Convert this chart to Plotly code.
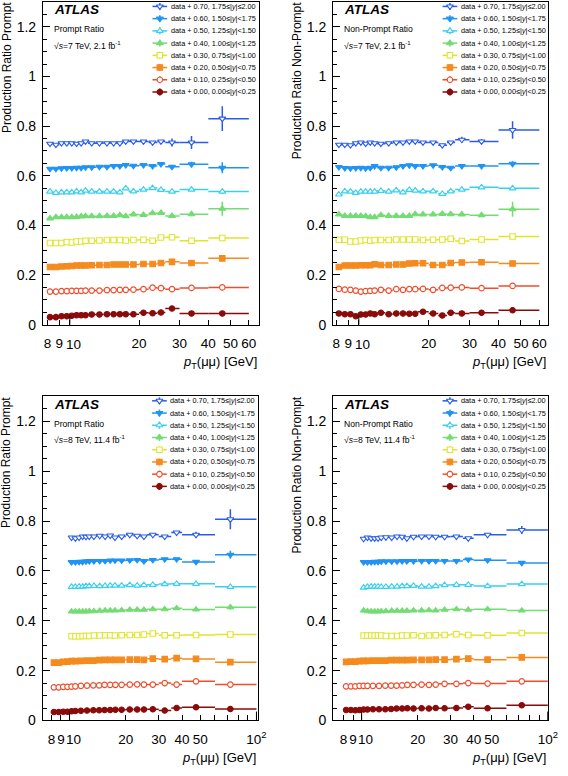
import math
import plotly.graph_objects as go

W, H = 568, 776
FONT = "Liberation Sans, Arial, Helvetica, sans-serif"

# ---------------- common series description ----------------
offsets = [0.70, 0.60, 0.50, 0.40, 0.30, 0.20, 0.10, 0.00]
rap_labels = ["1.75≤|<i>y</i>|≤2.00", "1.50≤|<i>y</i>|<1.75", "1.25≤|<i>y</i>|<1.50",
              "1.00≤|<i>y</i>|<1.25", "0.75≤|<i>y</i>|<1.00", "0.50≤|<i>y</i>|<0.75",
              "0.25≤|<i>y</i>|<0.50", "0.00≤|<i>y</i>|<0.25"]
colors = ["#2a5ce8", "#1f94f5", "#38d0ee", "#74dc74", "#dfe52a", "#f58a1e", "#f04c2c", "#8b0a0a"]
symbols = ["triangle-down", "triangle-down", "triangle-up", "triangle-up",
           "square", "square", "circle", "circle"]
is_open = [True, False, True, False, True, False, True, False]

# ---------------- pT binning ----------------
pt7_edges = [8, 8.5, 9, 9.5, 10, 10.5, 11, 11.5, 12, 13, 14, 15, 16, 17, 18, 20, 22, 24, 26, 30, 40, 60]
pt7_mean = [8.2, 8.7, 9.2, 9.7, 10.2, 10.7, 11.2, 11.7, 12.45, 13.45, 14.5, 15.5, 16.5, 17.5,
            18.9, 20.9, 22.9, 24.9, 27.8, 33.8, 46.0]

pt8lo_edges = [8, 8.5, 9, 9.5, 10, 10.5, 11, 12, 13, 14, 15, 16, 17, 18, 20, 22, 24, 26, 30, 35, 40, 60, 100]
pt8lo_mean = [8.25, 8.75, 9.25, 9.75, 10.25, 10.75, 11.5, 12.4, 13.4, 14.4, 15.4, 16.5, 17.6, 19.0,
              21.0, 23.0, 25.0, 27.9, 32.3, 37.4, 47.5, 72.5]
pt8hi_edges = [10, 10.5, 11, 11.5, 12, 12.5, 13, 14, 15, 16, 17, 18, 20, 22, 24, 26, 30, 35, 40, 60, 100]
pt8hi_mean = [10.25, 10.75, 11.25, 11.75, 12.25, 12.75, 13.5, 14.5, 15.5, 16.5, 17.5, 19.0, 21.0,
              23.0, 25.0, 27.9, 32.3, 37.4, 47.5, 72.5]

# ---------------- 7 TeV prompt ratio (top left) ----------------
tl_v070 = [0.029, 0.025, 0.031, 0.031, 0.031, 0.029, 0.031, 0.038, 0.031, 0.031, 0.031, 0.031, 0.031, 0.038, 0.038, 0.038, 0.034, 0.038, 0.034, 0.034, 0.130]
tl_v060 = [0.028, 0.028, 0.030, 0.031, 0.031, 0.032, 0.032, 0.034, 0.034, 0.036, 0.036, 0.039, 0.039, 0.043, 0.040, 0.043, 0.039, 0.047, 0.036, 0.046, 0.032]
tl_v050 = [0.036, 0.031, 0.033, 0.033, 0.033, 0.037, 0.033, 0.040, 0.036, 0.036, 0.036, 0.036, 0.033, 0.049, 0.037, 0.044, 0.050, 0.043, 0.036, 0.044, 0.036]
tl_v040 = [0.028, 0.033, 0.033, 0.033, 0.033, 0.034, 0.036, 0.037, 0.037, 0.037, 0.038, 0.038, 0.041, 0.037, 0.044, 0.042, 0.049, 0.050, 0.038, 0.045, 0.067]
tl_v030 = [0.029, 0.029, 0.029, 0.033, 0.031, 0.035, 0.035, 0.038, 0.038, 0.039, 0.041, 0.041, 0.041, 0.039, 0.041, 0.042, 0.038, 0.051, 0.052, 0.038, 0.049]
tl_v020 = [0.032, 0.032, 0.034, 0.035, 0.036, 0.038, 0.038, 0.038, 0.039, 0.040, 0.040, 0.042, 0.042, 0.042, 0.042, 0.044, 0.044, 0.048, 0.053, 0.048, 0.067]
tl_v010 = [0.033, 0.033, 0.035, 0.035, 0.036, 0.036, 0.036, 0.037, 0.037, 0.037, 0.039, 0.039, 0.040, 0.040, 0.041, 0.043, 0.049, 0.047, 0.043, 0.048, 0.050]
tl_v000 = [0.030, 0.030, 0.034, 0.034, 0.036, 0.038, 0.038, 0.038, 0.041, 0.041, 0.042, 0.042, 0.042, 0.042, 0.042, 0.048, 0.046, 0.049, 0.065, 0.045, 0.045]
tl_e070 = [0.003, 0.003, 0.003, 0.003, 0.003, 0.003, 0.003, 0.003, 0.003, 0.003, 0.003, 0.003, 0.004, 0.004, 0.004, 0.005, 0.005, 0.006, 0.016, 0.026, 0.050]
tl_e060 = [0.002, 0.002, 0.002, 0.002, 0.002, 0.002, 0.002, 0.002, 0.002, 0.002, 0.003, 0.003, 0.003, 0.003, 0.003, 0.004, 0.004, 0.005, 0.006, 0.010, 0.022]
tl_e050 = [0.002, 0.002, 0.002, 0.002, 0.002, 0.002, 0.002, 0.002, 0.002, 0.002, 0.002, 0.003, 0.003, 0.003, 0.003, 0.003, 0.004, 0.004, 0.005, 0.006, 0.010]
tl_e040 = [0.002, 0.002, 0.002, 0.002, 0.002, 0.002, 0.002, 0.002, 0.002, 0.002, 0.002, 0.003, 0.003, 0.003, 0.003, 0.003, 0.004, 0.004, 0.005, 0.008, 0.028]
tl_e030 = [0.002, 0.002, 0.002, 0.002, 0.002, 0.002, 0.002, 0.002, 0.002, 0.002, 0.002, 0.002, 0.003, 0.003, 0.003, 0.003, 0.003, 0.004, 0.004, 0.005, 0.008]
tl_e020 = [0.002, 0.002, 0.002, 0.002, 0.002, 0.002, 0.002, 0.002, 0.002, 0.002, 0.002, 0.002, 0.003, 0.003, 0.003, 0.003, 0.003, 0.004, 0.004, 0.005, 0.009]
tl_e010 = [0.002, 0.002, 0.002, 0.002, 0.002, 0.002, 0.002, 0.002, 0.002, 0.002, 0.002, 0.002, 0.002, 0.002, 0.002, 0.003, 0.003, 0.003, 0.003, 0.004, 0.005]
tl_e000 = [0.002, 0.002, 0.002, 0.002, 0.002, 0.002, 0.002, 0.002, 0.002, 0.002, 0.002, 0.002, 0.002, 0.002, 0.002, 0.003, 0.003, 0.003, 0.003, 0.004, 0.006]

# ---------------- 7 TeV non-prompt ratio (top right) ----------------
tr_v070 = [0.025, 0.025, 0.023, 0.031, 0.034, 0.029, 0.034, 0.031, 0.029, 0.031, 0.034, 0.034, 0.038, 0.038, 0.034, 0.034, 0.023, 0.034, 0.045, 0.038, 0.084]
tr_v060 = [0.035, 0.031, 0.030, 0.031, 0.032, 0.030, 0.032, 0.039, 0.032, 0.032, 0.034, 0.039, 0.042, 0.039, 0.039, 0.042, 0.035, 0.032, 0.039, 0.039, 0.048]
tr_v050 = [0.024, 0.037, 0.036, 0.031, 0.036, 0.036, 0.036, 0.036, 0.039, 0.036, 0.041, 0.033, 0.043, 0.040, 0.037, 0.037, 0.027, 0.037, 0.044, 0.053, 0.049]
tr_v040 = [0.044, 0.038, 0.038, 0.038, 0.038, 0.037, 0.033, 0.033, 0.041, 0.038, 0.038, 0.038, 0.038, 0.045, 0.044, 0.044, 0.046, 0.045, 0.044, 0.041, 0.065]
tr_v030 = [0.042, 0.042, 0.035, 0.035, 0.039, 0.041, 0.038, 0.041, 0.041, 0.041, 0.043, 0.043, 0.043, 0.043, 0.041, 0.042, 0.043, 0.046, 0.037, 0.043, 0.055]
tr_v020 = [0.032, 0.038, 0.038, 0.038, 0.039, 0.039, 0.039, 0.043, 0.040, 0.040, 0.042, 0.042, 0.046, 0.047, 0.047, 0.040, 0.040, 0.048, 0.050, 0.051, 0.046]
tr_v010 = [0.044, 0.041, 0.040, 0.037, 0.033, 0.035, 0.036, 0.037, 0.040, 0.037, 0.043, 0.040, 0.043, 0.043, 0.044, 0.040, 0.048, 0.049, 0.050, 0.047, 0.056]
tr_v000 = [0.045, 0.042, 0.042, 0.034, 0.041, 0.041, 0.045, 0.042, 0.048, 0.042, 0.045, 0.045, 0.044, 0.044, 0.052, 0.045, 0.037, 0.048, 0.045, 0.048, 0.058]
tr_e070 = [0.003, 0.003, 0.003, 0.003, 0.003, 0.003, 0.003, 0.003, 0.003, 0.003, 0.003, 0.003, 0.004, 0.004, 0.004, 0.005, 0.005, 0.006, 0.012, 0.010, 0.035]
tr_e060 = [0.002, 0.002, 0.002, 0.002, 0.002, 0.002, 0.002, 0.002, 0.002, 0.002, 0.003, 0.003, 0.003, 0.003, 0.003, 0.004, 0.004, 0.005, 0.005, 0.006, 0.010]
tr_e050 = [0.002, 0.002, 0.002, 0.002, 0.002, 0.002, 0.002, 0.002, 0.002, 0.002, 0.002, 0.003, 0.003, 0.003, 0.003, 0.003, 0.004, 0.004, 0.005, 0.005, 0.007]
tr_e040 = [0.002, 0.002, 0.002, 0.002, 0.002, 0.002, 0.002, 0.002, 0.002, 0.002, 0.002, 0.003, 0.003, 0.003, 0.003, 0.003, 0.004, 0.004, 0.004, 0.006, 0.030]
tr_e030 = [0.002, 0.002, 0.002, 0.002, 0.002, 0.002, 0.002, 0.002, 0.002, 0.002, 0.002, 0.002, 0.003, 0.003, 0.003, 0.003, 0.003, 0.004, 0.004, 0.005, 0.007]
tr_e020 = [0.002, 0.002, 0.002, 0.002, 0.002, 0.002, 0.002, 0.002, 0.002, 0.002, 0.002, 0.002, 0.003, 0.003, 0.003, 0.003, 0.003, 0.004, 0.004, 0.005, 0.006]
tr_e010 = [0.002, 0.002, 0.002, 0.002, 0.002, 0.002, 0.002, 0.002, 0.002, 0.002, 0.002, 0.002, 0.002, 0.002, 0.002, 0.003, 0.003, 0.003, 0.003, 0.004, 0.005]
tr_e000 = [0.002, 0.002, 0.002, 0.002, 0.002, 0.002, 0.002, 0.002, 0.002, 0.002, 0.002, 0.002, 0.002, 0.002, 0.002, 0.003, 0.003, 0.003, 0.003, 0.004, 0.005]

# ---------------- 8 TeV prompt ratio (bottom left) ----------------
bl_v070 = [0.034, 0.031, 0.034, 0.038, 0.037, 0.038, 0.038, 0.041, 0.038, 0.042, 0.034, 0.038, 0.045, 0.041, 0.038, 0.045, 0.038, 0.054, 0.045, 0.107]
bl_v060 = [0.035, 0.035, 0.036, 0.036, 0.038, 0.039, 0.039, 0.040, 0.040, 0.042, 0.042, 0.042, 0.043, 0.044, 0.039, 0.044, 0.047, 0.047, 0.036, 0.065]
bl_v050 = [0.036, 0.036, 0.037, 0.037, 0.039, 0.039, 0.040, 0.039, 0.040, 0.041, 0.041, 0.041, 0.043, 0.041, 0.043, 0.044, 0.047, 0.048, 0.048, 0.036]
bl_v040 = [0.037, 0.037, 0.037, 0.037, 0.037, 0.038, 0.038, 0.040, 0.041, 0.041, 0.041, 0.042, 0.044, 0.044, 0.044, 0.046, 0.046, 0.050, 0.045, 0.054]
bl_v030 = [0.038, 0.038, 0.038, 0.039, 0.039, 0.039, 0.041, 0.041, 0.042, 0.042, 0.041, 0.042, 0.043, 0.043, 0.045, 0.049, 0.042, 0.042, 0.043, 0.045]
bl_v020 = [0.032, 0.032, 0.035, 0.036, 0.038, 0.038, 0.039, 0.040, 0.040, 0.042, 0.043, 0.043, 0.043, 0.043, 0.044, 0.044, 0.043, 0.048, 0.046, 0.050, 0.047, 0.034]
bl_v010 = [0.033, 0.033, 0.035, 0.035, 0.036, 0.037, 0.039, 0.040, 0.041, 0.041, 0.043, 0.043, 0.043, 0.043, 0.044, 0.045, 0.044, 0.044, 0.050, 0.044, 0.057, 0.044]
bl_v000 = [0.034, 0.034, 0.035, 0.035, 0.037, 0.038, 0.039, 0.040, 0.041, 0.041, 0.042, 0.042, 0.043, 0.043, 0.044, 0.044, 0.044, 0.045, 0.040, 0.050, 0.053, 0.046]
bl_e070 = [0.003, 0.003, 0.003, 0.003, 0.003, 0.003, 0.003, 0.003, 0.003, 0.003, 0.003, 0.003, 0.004, 0.004, 0.004, 0.005, 0.006, 0.006, 0.012, 0.040]
bl_e060 = [0.002, 0.002, 0.002, 0.002, 0.002, 0.002, 0.002, 0.002, 0.002, 0.002, 0.002, 0.003, 0.003, 0.003, 0.003, 0.003, 0.004, 0.004, 0.005, 0.016]
bl_e050 = [0.002, 0.002, 0.002, 0.002, 0.002, 0.002, 0.002, 0.002, 0.002, 0.002, 0.002, 0.002, 0.003, 0.003, 0.003, 0.003, 0.003, 0.004, 0.004, 0.008]
bl_e040 = [0.002, 0.002, 0.002, 0.002, 0.002, 0.002, 0.002, 0.002, 0.002, 0.002, 0.002, 0.002, 0.003, 0.003, 0.003, 0.003, 0.003, 0.004, 0.004, 0.010]
bl_e030 = [0.002, 0.002, 0.002, 0.002, 0.002, 0.002, 0.002, 0.002, 0.002, 0.002, 0.002, 0.002, 0.002, 0.003, 0.003, 0.003, 0.003, 0.003, 0.004, 0.008]
bl_e020 = [0.002, 0.002, 0.002, 0.002, 0.002, 0.002, 0.002, 0.002, 0.002, 0.002, 0.002, 0.002, 0.002, 0.002, 0.002, 0.003, 0.003, 0.003, 0.003, 0.004, 0.005, 0.010]
bl_e010 = [0.002, 0.002, 0.002, 0.002, 0.002, 0.002, 0.002, 0.002, 0.002, 0.002, 0.002, 0.002, 0.002, 0.002, 0.002, 0.003, 0.003, 0.003, 0.003, 0.004, 0.005, 0.008]
bl_e000 = [0.002, 0.002, 0.002, 0.002, 0.002, 0.002, 0.002, 0.002, 0.002, 0.002, 0.002, 0.002, 0.002, 0.002, 0.002, 0.003, 0.003, 0.003, 0.003, 0.004, 0.005, 0.010]

# ---------------- 8 TeV non-prompt ratio (bottom right) ----------------
br_v070 = [0.029, 0.034, 0.031, 0.031, 0.031, 0.034, 0.035, 0.034, 0.038, 0.037, 0.031, 0.037, 0.038, 0.038, 0.037, 0.037, 0.038, 0.031, 0.045, 0.064]
br_v060 = [0.035, 0.035, 0.035, 0.036, 0.036, 0.038, 0.038, 0.038, 0.038, 0.039, 0.039, 0.039, 0.040, 0.039, 0.040, 0.040, 0.040, 0.046, 0.043, 0.032]
br_v050 = [0.033, 0.036, 0.037, 0.037, 0.037, 0.036, 0.036, 0.037, 0.037, 0.039, 0.039, 0.040, 0.037, 0.037, 0.039, 0.043, 0.044, 0.044, 0.039, 0.047]
br_v040 = [0.041, 0.038, 0.037, 0.037, 0.037, 0.038, 0.038, 0.040, 0.040, 0.040, 0.040, 0.041, 0.041, 0.042, 0.041, 0.044, 0.046, 0.044, 0.046, 0.041]
br_v030 = [0.041, 0.041, 0.041, 0.041, 0.041, 0.041, 0.039, 0.039, 0.039, 0.041, 0.041, 0.042, 0.039, 0.041, 0.042, 0.043, 0.046, 0.043, 0.042, 0.051]
br_v020 = [0.035, 0.036, 0.036, 0.038, 0.039, 0.039, 0.040, 0.040, 0.040, 0.042, 0.042, 0.042, 0.042, 0.043, 0.043, 0.043, 0.044, 0.044, 0.046, 0.048, 0.044, 0.053]
br_v010 = [0.037, 0.037, 0.037, 0.039, 0.039, 0.039, 0.039, 0.039, 0.040, 0.040, 0.040, 0.041, 0.043, 0.043, 0.044, 0.043, 0.044, 0.047, 0.047, 0.050, 0.048, 0.057]
br_v000 = [0.042, 0.042, 0.041, 0.042, 0.044, 0.044, 0.045, 0.045, 0.045, 0.046, 0.048, 0.048, 0.049, 0.048, 0.049, 0.048, 0.050, 0.049, 0.050, 0.055, 0.049, 0.061]
br_e070 = [0.003, 0.003, 0.003, 0.003, 0.003, 0.003, 0.003, 0.003, 0.003, 0.003, 0.003, 0.003, 0.004, 0.004, 0.004, 0.004, 0.005, 0.005, 0.007, 0.016]
br_e060 = [0.002, 0.002, 0.002, 0.002, 0.002, 0.002, 0.002, 0.002, 0.002, 0.002, 0.002, 0.003, 0.003, 0.003, 0.003, 0.003, 0.004, 0.004, 0.004, 0.006]
br_e050 = [0.002, 0.002, 0.002, 0.002, 0.002, 0.002, 0.002, 0.002, 0.002, 0.002, 0.002, 0.002, 0.003, 0.003, 0.003, 0.003, 0.003, 0.004, 0.004, 0.006]
br_e040 = [0.002, 0.002, 0.002, 0.002, 0.002, 0.002, 0.002, 0.002, 0.002, 0.002, 0.002, 0.002, 0.003, 0.003, 0.003, 0.003, 0.003, 0.004, 0.004, 0.005]
br_e030 = [0.002, 0.002, 0.002, 0.002, 0.002, 0.002, 0.002, 0.002, 0.002, 0.002, 0.002, 0.002, 0.002, 0.003, 0.003, 0.003, 0.003, 0.003, 0.004, 0.005]
br_e020 = [0.002, 0.002, 0.002, 0.002, 0.002, 0.002, 0.002, 0.002, 0.002, 0.002, 0.002, 0.002, 0.002, 0.002, 0.002, 0.003, 0.003, 0.003, 0.003, 0.004, 0.004, 0.005]
br_e010 = [0.002, 0.002, 0.002, 0.002, 0.002, 0.002, 0.002, 0.002, 0.002, 0.002, 0.002, 0.002, 0.002, 0.002, 0.002, 0.003, 0.003, 0.003, 0.003, 0.003, 0.004, 0.004]
br_e000 = [0.002, 0.002, 0.002, 0.002, 0.002, 0.002, 0.002, 0.002, 0.002, 0.002, 0.002, 0.002, 0.002, 0.002, 0.002, 0.003, 0.003, 0.003, 0.003, 0.003, 0.004, 0.004]

# ---------------- tick labels ----------------
# the "10" label is drawn separately (shifted a little to the right, as in the original)
xt7_vals = [8, 9, 20, 30, 40, 50, 60]
xt7_text = ["8", "9", "20", "30", "40", "50", "60"]
xt7_minor = [10]
xt8_vals = [8, 9, 20, 30, 40, 50, 100]
xt8_text = ["8", "9", "20", "30", "40", "50", "10<sup>2</sup>"]
xt8_minor = [10, 60, 70, 80, 90]
x_ten_label = "10"

# ---------------- panel assembly ----------------
b7 = (pt7_edges, pt7_mean)
b8lo = (pt8lo_edges, pt8lo_mean)
b8hi = (pt8hi_edges, pt8hi_mean)

panels = [
    dict(ax="", xdom=(43.7, 263.3), ydom=(2, 328), xr=(7.64, 66.2), xt=(xt7_vals, xt7_text, xt7_minor),
         bins=[b7] * 8,
         vals=[tl_v070, tl_v060, tl_v050, tl_v040, tl_v030, tl_v020, tl_v010, tl_v000],
         errs=[tl_e070, tl_e060, tl_e050, tl_e040, tl_e030, tl_e020, tl_e010, tl_e000],
         ytitle="Production Ratio Prompt", tag="Prompt Ratio", energy="7 TeV, 2.1 fb<sup>-1</sup>",
         tall=[10]),
    dict(ax="2", xdom=(339, 558), ydom=(2, 328), xr=(7.74, 65.5), xt=(xt7_vals, xt7_text, xt7_minor),
         bins=[b7] * 8,
         vals=[tr_v070, tr_v060, tr_v050, tr_v040, tr_v030, tr_v020, tr_v010, tr_v000],
         errs=[tr_e070, tr_e060, tr_e050, tr_e040, tr_e030, tr_e020, tr_e010, tr_e000],
         ytitle="Production Ratio Non-Prompt", tag="Non-Prompt Ratio", energy="7 TeV, 2.1 fb<sup>-1</sup>",
         tall=[10]),
    dict(ax="3", xdom=(43.3, 262.7), ydom=(400.5, 728), xr=(7.17, 102), xt=(xt8_vals, xt8_text, xt8_minor),
         bins=[b8hi] * 5 + [b8lo] * 3,
         vals=[bl_v070, bl_v060, bl_v050, bl_v040, bl_v030, bl_v020, bl_v010, bl_v000],
         errs=[bl_e070, bl_e060, bl_e050, bl_e040, bl_e030, bl_e020, bl_e010, bl_e000],
         ytitle="Production Ratio Prompt", tag="Prompt Ratio", energy="8 TeV, 11.4 fb<sup>-1</sup>",
         tall=[10, 100]),
    dict(ax="4", xdom=(339, 558), ydom=(400.5, 728), xr=(7.02, 100.5), xt=(xt8_vals, xt8_text, xt8_minor),
         bins=[b8hi] * 5 + [b8lo] * 3,
         vals=[br_v070, br_v060, br_v050, br_v040, br_v030, br_v020, br_v010, br_v000],
         errs=[br_e070, br_e060, br_e050, br_e040, br_e030, br_e020, br_e010, br_e000],
         ytitle="Production Ratio Non-Prompt", tag="Non-Prompt Ratio", energy="8 TeV, 11.4 fb<sup>-1</sup>",
         tall=[10, 100]),
]

TICKFONT = dict(size=13.5, family=FONT, color="black")

fig = go.Figure()
layout = dict(width=W, height=H, margin=dict(l=0, r=0, t=0, b=0),
              paper_bgcolor="white", plot_bgcolor="rgba(0,0,0,0)", showlegend=False,
              font=dict(family=FONT, color="black"))
annotations = []
shapes = []

for p in panels:
    xa = "x" + p["ax"]
    ya = "y" + p["ax"]
    xkey = "xaxis" + p["ax"]
    ykey = "yaxis" + p["ax"]
    layout[xkey] = dict(
        type="log", domain=[p["xdom"][0] / W, p["xdom"][1] / W],
        range=[math.log10(p["xr"][0]), math.log10(p["xr"][1])], anchor=ya,
        showline=True, linecolor="black", linewidth=1, mirror=True,
        ticks="inside", ticklen=5, tickwidth=1, tickcolor="black",
        tickmode="array", tickvals=p["xt"][0], ticktext=p["xt"][1], tickangle=0,
        showgrid=False, zeroline=False, fixedrange=True, ticklabelstandoff=6,
        tickfont=TICKFONT,
        minor=dict(tickmode="array", tickvals=p["xt"][2], ticks="inside", ticklen=5,
                   tickwidth=1, tickcolor="black", showgrid=False))
    layout[ykey] = dict(
        domain=[1 - p["ydom"][1] / H, 1 - p["ydom"][0] / H], range=[0, 1.3], anchor=xa,
        showline=True, linecolor="black", linewidth=1, mirror=True,
        ticks="inside", ticklen=7, tickwidth=1, tickcolor="black",
        tick0=0, dtick=0.2, showgrid=False, zeroline=False, fixedrange=True,
        tickfont=dict(size=14, family=FONT, color="black"), ticklabelstandoff=3,
        minor=dict(dtick=0.05, tick0=0, ticks="inside", ticklen=4, tickwidth=1,
                   tickcolor="black", showgrid=False))
    for tv in p["tall"]:
        shapes.append(dict(type="line", xref=xa, yref=ya + " domain", x0=tv, x1=tv, y0=0, y1=9 / 327,
                           line=dict(color="black", width=1)))
    # "10" tick label
    annotations.append(dict(xref=xa, yref=ya + " domain", x=math.log10(10), y=0, xanchor="center",
                            yanchor="middle", xshift=4, yshift=-19.5, text=x_ten_label, showarrow=False,
                            font=TICKFONT))

    # data series
    for k in range(8):
        edges, means = p["bins"][k]
        vals = p["vals"][k]
        col = colors[k]
        yv = [v + offsets[k] for v in vals]
        xm = [m - e for m, e in zip(means, edges[:-1])]
        xp = [e - m for m, e in zip(means, edges[1:])]
        fig.add_trace(go.Scatter(
            x=means, y=yv, mode="markers", xaxis=xa, yaxis=ya,
            marker=dict(symbol=symbols[k], size=6 if "triangle" in symbols[k] else 5.5,
                        color="white" if is_open[k] else col,
                        line=dict(color=col, width=1.1)),
            error_x=dict(type="data", symmetric=False, array=xp, arrayminus=xm,
                         color=col, thickness=1.5, width=0),
            error_y=dict(type="data", array=p["errs"][k], color=col, thickness=1.5, width=0),
            showlegend=False, hoverinfo="skip"))

    # texts
    lx = p["xdom"][0] + 9.6
    top = p["ydom"][0]
    annotations.append(dict(xref="x5", yref="y5", x=lx, y=top + 8, xanchor="left", yanchor="middle",
                            text="<b><i>ATLAS</i></b>", showarrow=False,
                            font=dict(size=13.5, family=FONT, color="black")))
    annotations.append(dict(xref="x5", yref="y5", x=lx, y=top + 27.5, xanchor="left", yanchor="middle",
                            text=p["tag"], showarrow=False, font=dict(size=8.6, family=FONT, color="black")))
    annotations.append(dict(xref="x5", yref="y5", x=lx, y=top + 44, xanchor="left", yanchor="middle",
                            text="√<i>s</i>=" + p["energy"],
                            showarrow=False, font=dict(size=8.6, family=FONT, color="black")))
    # axis titles
    annotations.append(dict(xref="x5", yref="y5", x=p["xdom"][0] - 36.5, y=top - 1.5,
                            xanchor="center", yanchor="top", textangle=-90,
                            text=p["ytitle"], showarrow=False,
                            font=dict(size=12, family=FONT, color="black")))
    annotations.append(dict(xref="x5", yref="y5", x=p["xdom"][1], y=p["ydom"][1] + 38,
                            xanchor="right", yanchor="middle",
                            text="<i>p</i><sub>T</sub>(μμ) [GeV]", showarrow=False,
                            font=dict(size=13, family=FONT, color="black")))

    # legend (glyphs on pixel overlay axis)
    gx0 = p["xdom"][0] + 111.5
    for k in range(8):
        ry = top + 4.5 + 12.35 * k
        col = colors[k]
        fig.add_trace(go.Scatter(x=[gx0, gx0 + 15], y=[ry, ry], mode="lines", xaxis="x5", yaxis="y5",
                                 line=dict(color=col, width=1.5), showlegend=False, hoverinfo="skip"))
        fig.add_trace(go.Scatter(
            x=[gx0 + 7.5], y=[ry], mode="markers", xaxis="x5", yaxis="y5",
            marker=dict(symbol=symbols[k], size=6 if "triangle" in symbols[k] else 5.5,
                        color="white" if is_open[k] else col, line=dict(color=col, width=1.1)),
            error_y=dict(type="data", array=[3.5], color=col, thickness=1.5, width=0),
            showlegend=False, hoverinfo="skip"))
        annotations.append(dict(xref="x5", yref="y5", x=gx0 + 16.5, y=ry, xanchor="left", yanchor="middle",
                                text="data + %.2f, %s" % (offsets[k], rap_labels[k]), showarrow=False,
                                font=dict(size=7.3, family=FONT, color="black")))

layout["xaxis5"] = dict(domain=[0, 1], range=[0, W], visible=False, showticklabels=False,
                        anchor="y5", fixedrange=True)
layout["yaxis5"] = dict(domain=[0, 1], range=[H, 0], visible=False, showticklabels=False,
                        anchor="x5", fixedrange=True)
layout["annotations"] = annotations
layout["shapes"] = shapes
fig.update_layout(**layout)

fig.write_html("out.html", config={"displayModeBar": False, "staticPlot": True})

# remove the browser's default page margin so the figure sits at (0, 0)
with open("out.html", "r", encoding="utf-8") as f:
    html = f.read()
html = html.replace("<head>", "<head><style>html,body{margin:0;padding:0;overflow:hidden;}</style>", 1)
with open("out.html", "w", encoding="utf-8") as f:
    f.write(html)
